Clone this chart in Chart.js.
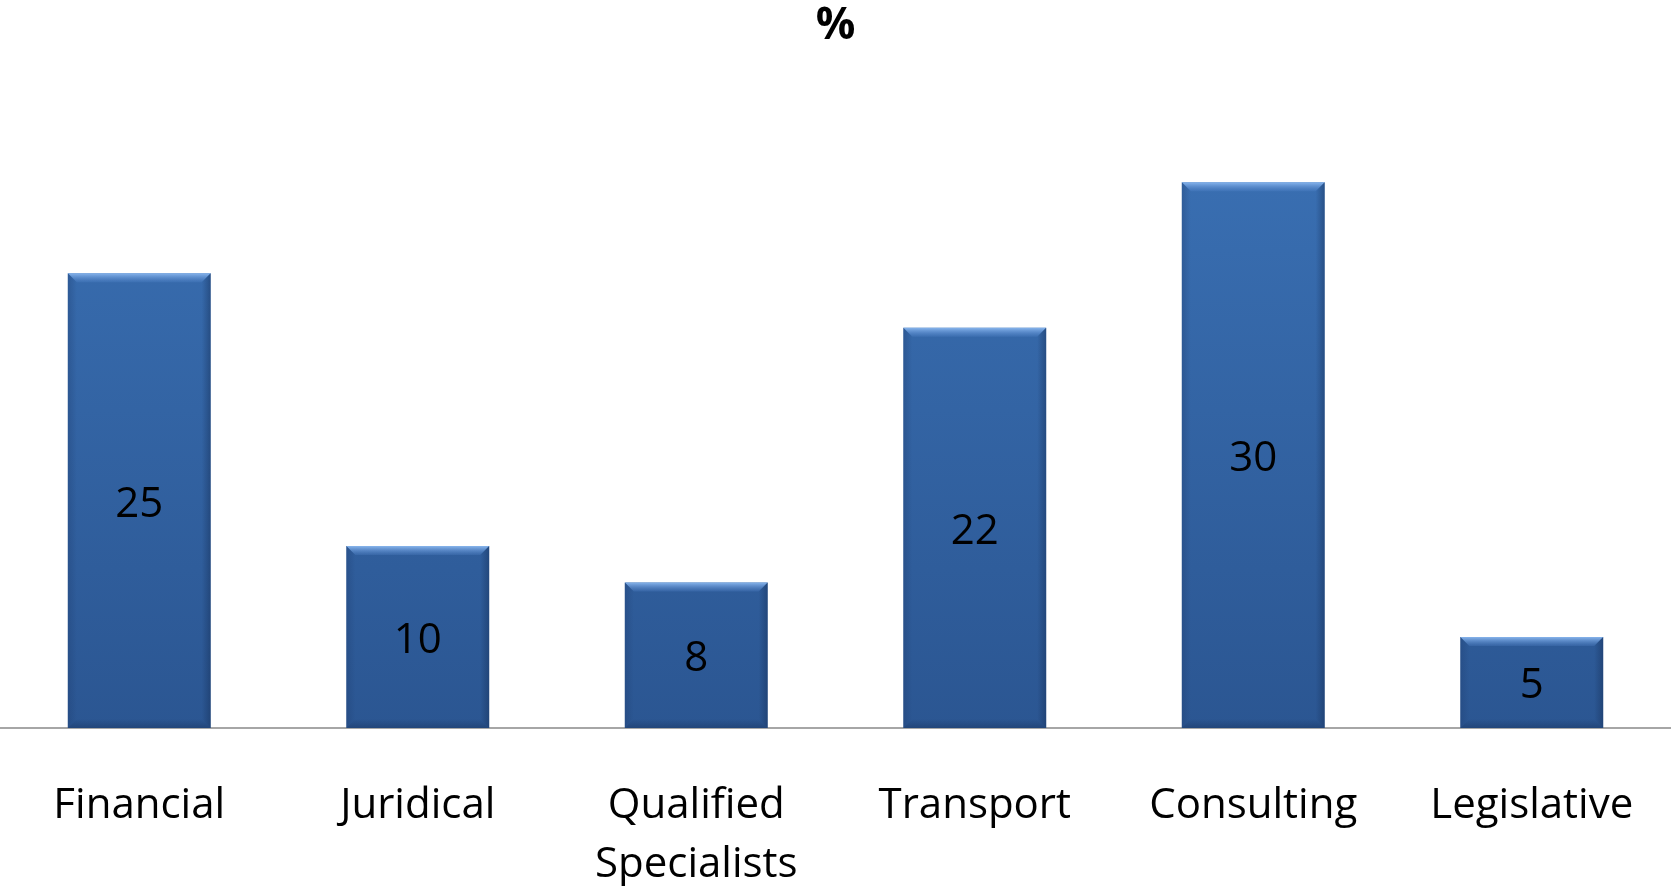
<!DOCTYPE html>
<html>
<head>
<meta charset="utf-8">
<script src="https://cdn.jsdelivr.net/npm/chart.js@4"></script>
<style>
  html, body { margin: 0; padding: 0; background: #fff; }
  #box { width: 1671px; height: 886px; }
</style>
</head>
<body>
<div id="box"><canvas id="graficoSettori"></canvas></div>
<script>
const categorie = ['Financial', 'Juridical', ['Qualified', 'Specialists'], 'Transport', 'Consulting', 'Legislative'];
const percentuali = [25, 10, 8, 22, 30, 5];

// etichette dei valori al centro delle barre + effetto rilievo
const rilievoBarre = {
    id: 'rilievoBarre',
    afterDatasetsDraw(chart) {
        const ctx = chart.ctx;
        const meta = chart.getDatasetMeta(0);
        meta.data.forEach((bar, i) => {
            const l = bar.x - bar.width / 2, r = bar.x + bar.width / 2;
            const t = bar.y, b = bar.base, s = 9;
            ctx.save();
            // fascia chiara in alto
            let g = ctx.createLinearGradient(0, t, 0, t + s);
            g.addColorStop(0, 'rgba(140,185,240,0.95)');
            g.addColorStop(1, 'rgba(90,140,210,0.2)');
            ctx.fillStyle = g;
            ctx.beginPath();
            ctx.moveTo(l, t); ctx.lineTo(r, t); ctx.lineTo(r - s, t + s); ctx.lineTo(l + s, t + s);
            ctx.closePath(); ctx.fill();
            // lato destro scuro
            g = ctx.createLinearGradient(r - s, 0, r, 0);
            g.addColorStop(0, 'rgba(20,45,85,0)');
            g.addColorStop(1, 'rgba(20,45,85,0.45)');
            ctx.fillStyle = g;
            ctx.beginPath();
            ctx.moveTo(r, t); ctx.lineTo(r, b); ctx.lineTo(r - s, b - s); ctx.lineTo(r - s, t + s);
            ctx.closePath(); ctx.fill();
            // lato sinistro
            g = ctx.createLinearGradient(l, 0, l + s, 0);
            g.addColorStop(0, 'rgba(30,60,110,0.35)');
            g.addColorStop(1, 'rgba(30,60,110,0)');
            ctx.fillStyle = g;
            ctx.beginPath();
            ctx.moveTo(l, t); ctx.lineTo(l + s, t + s); ctx.lineTo(l + s, b - s); ctx.lineTo(l, b);
            ctx.closePath(); ctx.fill();
            // fondo scuro
            g = ctx.createLinearGradient(0, b - s, 0, b);
            g.addColorStop(0, 'rgba(20,45,85,0)');
            g.addColorStop(1, 'rgba(20,45,85,0.4)');
            ctx.fillStyle = g;
            ctx.beginPath();
            ctx.moveTo(l, b); ctx.lineTo(r, b); ctx.lineTo(r - s, b - s); ctx.lineTo(l + s, b - s);
            ctx.closePath(); ctx.fill();

            ctx.fillStyle = '#000';
            ctx.font = '42px "Open Sans"';
            ctx.textAlign = 'center';
            ctx.textBaseline = 'middle';
            ctx.fillText(String(percentuali[i]), bar.x, (t + b) / 2 + 4);
            ctx.restore();
        });
    }
};

const ctx = document.getElementById('graficoSettori').getContext('2d');

new Chart(ctx, {
    type: 'bar',
    data: {
        labels: categorie,
        datasets: [{
            label: '%',
            data: percentuali,
            backgroundColor: (c) => {
                const area = c.chart.chartArea;
                if (!area) return '#3266a6';
                const g = c.chart.ctx.createLinearGradient(0, area.top, 0, area.bottom);
                g.addColorStop(0, '#3b72b6');
                g.addColorStop(1, '#2b5692');
                return g;
            },
            borderWidth: 0,
            barPercentage: 0.513,
            categoryPercentage: 1
        }]
    },
    options: {
        responsive: true,
        maintainAspectRatio: false,
        animation: false,
        layout: { padding: 0 },
        plugins: {
            legend: { display: false },
            tooltip: { enabled: false },
            title: {
                display: true,
                text: '%',
                color: '#000',
                font: { family: '"Open Sans"', size: 44, weight: 'bold' },
                padding: { top: 0, bottom: 38.5 }
            }
        },
        scales: {
            x: {
                grid: { display: false, drawTicks: false },
                border: { display: true, color: '#a6a6a6', width: 2 },
                ticks: {
                    color: '#000',
                    font: { family: '"Open Sans"', size: 42, lineHeight: 1.4 },
                    padding: 49,
                    maxRotation: 0,
                    autoSkip: false
                },
                afterFit: (scale) => {
                    scale.height = 158;
                    scale.paddingLeft = 0;
                    scale.paddingRight = 0;
                }
            },
            y: {
                display: false,
                min: 0,
                max: 35
            }
        }
    },
    plugins: [rilievoBarre]
});
</script>
</body>
</html>
